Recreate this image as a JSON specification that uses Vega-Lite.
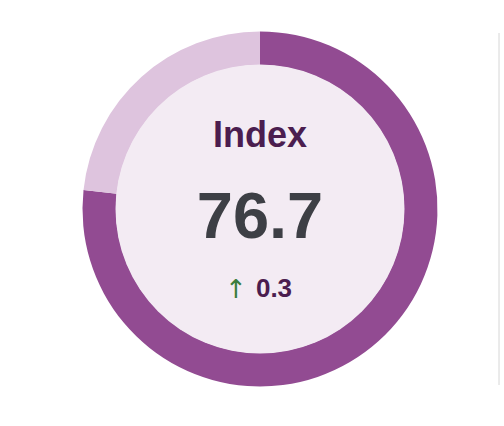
{
  "$schema": "https://vega.github.io/schema/vega-lite/v6.json",
  "width": 504,
  "height": 426,
  "autosize": {"type": "fit", "contains": "padding"},
  "padding": {"left": 21, "right": 4, "top": 32, "bottom": 40},
  "background": "white",
  "datasets": {
    "gauge": [
      {"part": "value", "share": 76.7},
      {"part": "rest", "share": 23.3}
    ],
    "kpi": [
      {"label": "Index", "value": 76.7, "change": 0.3}
    ]
  },
  "layer": [
    {
      "data": {"name": "gauge"},
      "mark": {"type": "arc", "innerRadius": 144, "outerRadius": 177.5},
      "encoding": {
        "theta": {"field": "share", "type": "quantitative", "stack": true},
        "order": {"field": "share", "sort": "descending"},
        "color": {
          "field": "part",
          "type": "nominal",
          "scale": {"domain": ["value", "rest"], "range": ["#924b92", "#dec4de"]},
          "legend": null
        }
      }
    },
    {
      "data": {"name": "gauge"},
      "mark": {"type": "arc", "innerRadius": 0, "outerRadius": 144.5, "color": "#f3ebf3"},
      "encoding": {
        "theta": {"aggregate": "sum", "field": "share", "type": "quantitative"}
      }
    },
    {
      "data": {"name": "kpi"},
      "mark": {"type": "text", "align": "center", "baseline": "alphabetic", "dy": -62, "fontSize": 36, "fontWeight": "bold", "font": "Liberation Sans", "color": "#4b1d4f"},
      "encoding": {"text": {"field": "label"}}
    },
    {
      "data": {"name": "kpi"},
      "mark": {"type": "text", "align": "center", "baseline": "alphabetic", "dy": 29, "fontSize": 65, "fontWeight": "bold", "font": "Liberation Sans", "color": "#3d3f45"},
      "encoding": {"text": {"field": "value", "format": ".1f"}}
    },
    {
      "data": {"name": "kpi"},
      "mark": {"type": "text", "align": "center", "baseline": "alphabetic", "dx": -24, "dy": 89, "fontSize": 26, "font": "DejaVu Sans", "color": "#3b7d3b", "text": "↑"},
      "encoding": {}
    },
    {
      "data": {"name": "kpi"},
      "mark": {"type": "text", "align": "center", "baseline": "alphabetic", "dx": 14, "dy": 88, "fontSize": 26, "fontWeight": "bold", "font": "Liberation Sans", "color": "#4b1d4f"},
      "encoding": {"text": {"field": "change", "format": ".1f"}}
    },
    {
      "data": {"name": "kpi"},
      "mark": {"type": "rule", "color": "#d6d6d6", "strokeWidth": 1},
      "encoding": {"x": {"value": "width"}}
    }
  ],
  "config": {
    "view": {"stroke": null}
  }
}
